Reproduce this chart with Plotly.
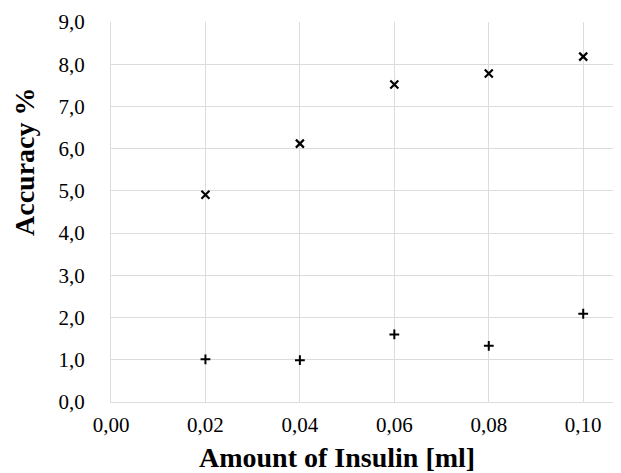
import plotly.graph_objects as go

x_vals = [0.02, 0.04, 0.06, 0.08, 0.10]
series_x = [4.91, 6.12, 7.52, 7.78, 8.18]
series_plus = [1.01, 0.99, 1.60, 1.33, 2.09]

x_ticks = [0.00, 0.02, 0.04, 0.06, 0.08, 0.10]
y_ticks = [0, 1, 2, 3, 4, 5, 6, 7, 8, 9]

x_title = "Amount of Insulin [ml]"
y_title = "Accuracy %"

font_family = "Liberation Serif"
grid = "#dcdcdc"

fig = go.Figure()
fig.add_trace(go.Scatter(
    x=x_vals, y=series_x, mode="markers", name="x",
    marker=dict(symbol="x-thin", size=8, line=dict(width=2.2, color="black"), color="black"),
))
fig.add_trace(go.Scatter(
    x=x_vals, y=series_plus, mode="markers", name="+",
    marker=dict(symbol="cross-thin", size=7, line=dict(width=2, color="black"), color="black"),
))

fig.update_layout(
    width=613, height=465,
    margin=dict(l=103, r=0, t=14, b=71),
    plot_bgcolor="white", paper_bgcolor="white",
    showlegend=False,
    separators=", ",
    font=dict(family=font_family, color="black"),
    xaxis=dict(
        range=[0, 0.108], tickvals=x_ticks, tickformat=".2f",
        showgrid=True, gridcolor=grid, gridwidth=1,
        zeroline=False, showline=True, linecolor=grid, linewidth=1, ticks="",
        tickfont=dict(size=21, family=font_family),
        ticklabelstandoff=4,
        automargin=False,
    ),
    yaxis=dict(
        range=[0, 9], tickvals=y_ticks, tickformat=".1f",
        showgrid=True, gridcolor=grid, gridwidth=1,
        zeroline=False, showline=True, linecolor=grid, linewidth=1, ticks="",
        tickfont=dict(size=21, family=font_family),
        ticklabelstandoff=21,
        automargin=False,
    ),
    annotations=[
        dict(text="<b>" + x_title + "</b>", xref="paper", yref="paper",
             x=0.444, y=0, xanchor="center", yanchor="middle", yshift=-55,
             showarrow=False, font=dict(size=28, family=font_family, color="black")),
        dict(text="<b>" + y_title + "</b>", xref="paper", yref="paper",
             x=0, y=0.5, xanchor="center", yanchor="middle", xshift=-87, yshift=50,
             textangle=-90,
             showarrow=False, font=dict(size=28, family=font_family, color="black")),
    ],
)
fig.write_html("out.html")
